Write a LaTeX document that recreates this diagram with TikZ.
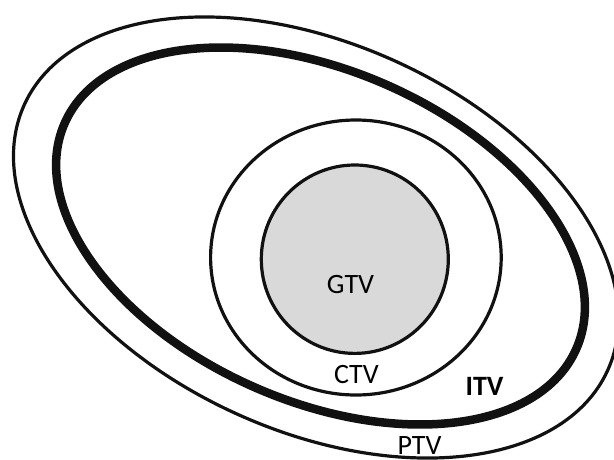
\documentclass[tikz,border=0pt]{standalone}
\usepackage{fontspec}
\setmainfont{Carlito}
\definecolor{linecol}{HTML}{111111}
\definecolor{gtvfill}{HTML}{D9D9D9}
\begin{document}
\begin{tikzpicture}[x=1pt,y=-1pt,
  thinline/.style={draw=linecol,line width=3.2pt},
  thickline/.style={draw=linecol,line width=8.5pt},
  lbl/.style={anchor=base,inner sep=0pt,font=\fontsize{28}{30}\selectfont,text=black}]
\useasboundingbox (0,0) rectangle (614,459);
\clip (0,0) rectangle (614,459);
\fill[white] (0,0) rectangle (614,459);
% PTV
\draw[thinline,rotate around={-24.5:(316,237.5)}] (316,237.5) ellipse [x radius=320.5,y radius=193.4];
% ITV
\draw[thickline,rotate around={-23.8:(320.5,236)}] (320.5,236) ellipse [x radius=279.6,y radius=165];
% CTV
\draw[thinline] (355.9,257.5) ellipse [x radius=145.3,y radius=137.5];
% GTV
\draw[thinline,fill=gtvfill] (354.8,259.2) ellipse [x radius=93.5,y radius=94.2];
\node[lbl] (gtv) at (350.5,293) {GTV};
\node[lbl] (ctv) at (356.5,383) {CTV};
\node[lbl,font=\fontsize{28}{30}\selectfont\bfseries] (itv) at (484.5,395) {ITV};
\node[lbl] (ptv) at (419.5,454.5) {PTV};
\end{tikzpicture}
\end{document}
